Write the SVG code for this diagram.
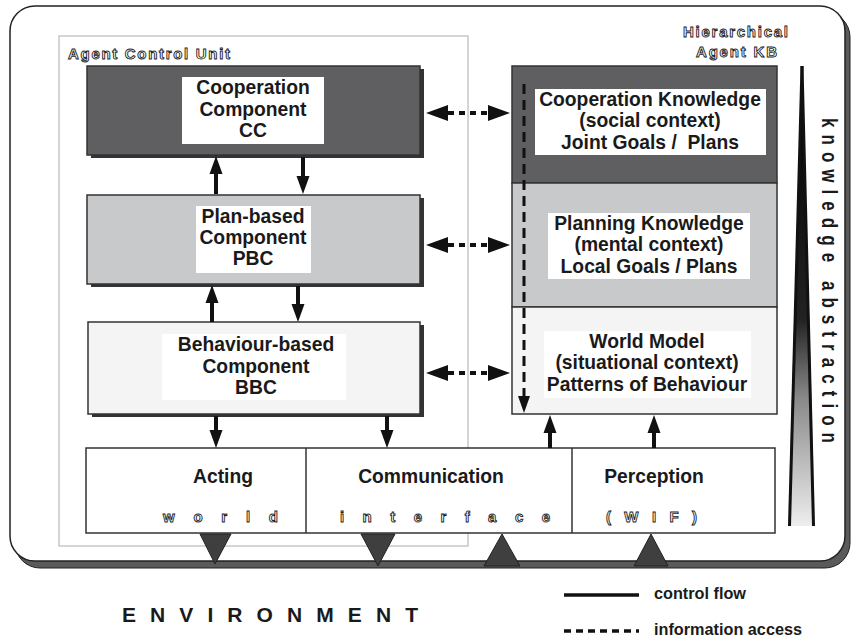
<svg xmlns="http://www.w3.org/2000/svg" width="851" height="639" viewBox="0 0 851 639">
<defs>
<linearGradient id="wedgeGrad" x1="0" y1="66" x2="0" y2="526" gradientUnits="userSpaceOnUse">
<stop offset="0" stop-color="#000"/>
<stop offset="0.55" stop-color="#222"/>
<stop offset="0.72" stop-color="#888"/>
<stop offset="1" stop-color="#eee"/>
</linearGradient>
<style>
text{font-family:"Liberation Sans",Arial,sans-serif;font-weight:bold;}
.lbl{font-size:19.3px;fill:#1a1a1a;text-anchor:middle;}
.hollow{font-size:15px;fill:#fff;stroke:#222;stroke-width:0.9;}
.box{stroke:#333;stroke-width:1.5;}
.shadow{fill:#333;}
.white{fill:#fff;}
.solid{stroke:#111;stroke-width:4;fill:none;}
.dash{stroke:#111;stroke-width:4;fill:none;stroke-dasharray:6 5;}
.head{fill:#111;}
.tri{fill:#3f3f3f;stroke:#222;stroke-width:1;}
.leg{font-size:16px;fill:#1a1a1a;}
</style>
</defs>
<rect width="851" height="639" fill="#fff"/>
<!-- outer frame -->
<g id="frame">
<rect x="15" y="12" width="835" height="556" rx="25" fill="#5a5a5a" stroke="#222" stroke-width="1"/>
<rect x="10" y="6" width="835" height="555" rx="25" fill="#fff" stroke="#222" stroke-width="1.5"/>
</g>
<g id="agent-control-unit">
<rect x="59" y="36" width="409" height="510" fill="none" stroke="#c8c8c8" stroke-width="1.5"/>
<text class="hollow" x="68" y="59" textLength="162" lengthAdjust="spacing">Agent Control Unit</text>
</g>
<g id="cc">
<rect class="shadow" x="91" y="69" width="333" height="89"/>
<rect class="box" x="87" y="66" width="333" height="89" fill="#5f5f61"/>
<rect class="white" x="182" y="77" width="142" height="67"/>
<text class="lbl" x="253" y="94">Cooperation</text>
<text class="lbl" x="253" y="115.5">Component</text>
<text class="lbl" x="253" y="137">CC</text>
</g>
<g id="pbc">
<rect class="shadow" x="91" y="198" width="333" height="89"/>
<rect class="box" x="87" y="195" width="333" height="89" fill="#c8c9cb"/>
<rect class="white" x="196" y="206" width="115" height="67"/>
<text class="lbl" x="253" y="223">Plan-based</text>
<text class="lbl" x="253" y="244">Component</text>
<text class="lbl" x="253" y="265">PBC</text>
</g>
<g id="bbc">
<rect class="shadow" x="92" y="325" width="332" height="92"/>
<rect class="box" x="88" y="322" width="332" height="92" fill="#f4f4f4"/>
<rect class="white" x="162" y="334" width="184" height="66"/>
<text class="lbl" x="256" y="351">Behaviour-based</text>
<text class="lbl" x="256" y="372.5">Component</text>
<text class="lbl" x="256" y="394">BBC</text>
</g>
<g id="kb-title">
<text class="hollow" x="683" y="37" textLength="105" lengthAdjust="spacing">Hierarchical</text>
<text class="hollow" x="696" y="57" textLength="81" lengthAdjust="spacing">Agent KB</text>
</g>
<g id="ck">
<rect class="box" x="512" y="66" width="265" height="117" fill="#5f5f61"/>
<rect class="white" x="535" y="89" width="231" height="66"/>
<text class="lbl" x="650" y="106">Cooperation Knowledge</text>
<text class="lbl" x="650" y="127">(social context)</text>
<text class="lbl" x="650" y="149" style="white-space:pre">Joint Goals /  Plans</text>
</g>
<g id="pk">
<rect class="box" x="512" y="183" width="265" height="124" fill="#c8c9cb"/>
<rect class="white" x="548" y="213" width="202" height="66"/>
<text class="lbl" x="649" y="230">Planning Knowledge</text>
<text class="lbl" x="649" y="251">(mental context)</text>
<text class="lbl" x="649" y="273">Local Goals / Plans</text>
</g>
<g id="wm">
<rect class="box" x="512" y="307" width="265" height="107" fill="#f4f4f4"/>
<rect class="white" x="544" y="331" width="207" height="67"/>
<text class="lbl" x="647" y="348">World Model</text>
<text class="lbl" x="647" y="369">(situational context)</text>
<text class="lbl" x="647" y="391">Patterns of Behaviour</text>
</g>
<g id="interface">
<rect class="box" x="86" y="448" width="689" height="85" fill="#fff"/>
<line x1="306" y1="448" x2="306" y2="533" stroke="#333" stroke-width="1.5"/>
<line x1="572" y1="448" x2="572" y2="533" stroke="#333" stroke-width="1.5"/>
<text class="lbl" x="223" y="483">Acting</text>
<text class="lbl" x="431" y="483">Communication</text>
<text class="lbl" x="654" y="483">Perception</text>
<text class="hollow" x="163" y="522" textLength="115" lengthAdjust="spacing">w o r l d</text>
<text class="hollow" x="340" y="522" textLength="210" lengthAdjust="spacing">i n t e r f a c e</text>
<text class="hollow" x="606" y="522" textLength="91" lengthAdjust="spacing">( W I F )</text>
</g>
<g id="environment-triangles">
<polygon class="tri" points="200,534 231,534 215,564"/>
<polygon class="tri" points="361,534 395,534 378,566"/>
<polygon class="tri" points="484,566 520,566 502,534"/>
<polygon class="tri" points="634,566 668,566 651,534"/>
</g>
<g id="knowledge-abstraction">
<polygon points="802,66 815,526 788,526" fill="url(#wedgeGrad)"/>
<line x1="802" y1="66" x2="789.5" y2="526" stroke="#111" stroke-width="3"/>
<line x1="802" y1="66" x2="813.5" y2="526" stroke="#111" stroke-width="3"/>
<text transform="translate(822,118) rotate(90) scale(1,1.25)" x="0" y="0" font-size="17" fill="#1a1a1a" textLength="325" lengthAdjust="spacing" style="white-space:pre">k n o w l e d g e   a b s t r a c t i o n</text>
</g>
<g id="connectors">
<!-- CC <-> PBC -->
<line class="solid" x1="216" y1="194" x2="216" y2="172"/>
<polygon class="head" points="216,156 209.5,174 222.5,174"/>
<line class="solid" x1="303" y1="157" x2="303" y2="178"/>
<polygon class="head" points="303,194 296.5,176 309.5,176"/>
<!-- PBC <-> BBC -->
<line class="solid" x1="212" y1="322" x2="212" y2="301"/>
<polygon class="head" points="212,285 205.5,303 218.5,303"/>
<line class="solid" x1="298" y1="286" x2="298" y2="306"/>
<polygon class="head" points="298,322 291.5,304 304.5,304"/>
<!-- BBC -> interface -->
<line class="solid" x1="216" y1="416" x2="216" y2="432"/>
<polygon class="head" points="216,448 209.5,430 222.5,430"/>
<line class="solid" x1="387" y1="416" x2="387" y2="432"/>
<polygon class="head" points="387,448 380.5,430 393.5,430"/>
<!-- interface -> WM -->
<line class="solid" x1="550" y1="448" x2="550" y2="431"/>
<polygon class="head" points="550,415 543.5,433 556.5,433"/>
<line class="solid" x1="654" y1="448" x2="654" y2="431"/>
<polygon class="head" points="654,415 647.5,433 660.5,433"/>
<!-- information access -->
<line class="dash" x1="448" y1="113" x2="488" y2="113"/>
<polygon class="head" points="426,113 448,105 448,121"/>
<polygon class="head" points="510,113 488,105 488,121"/>
<line class="dash" x1="448" y1="245" x2="488" y2="245"/>
<polygon class="head" points="426,245 448,237 448,253"/>
<polygon class="head" points="510,245 488,237 488,253"/>
<line class="dash" x1="448" y1="373" x2="488" y2="373"/>
<polygon class="head" points="426,373 448,365 448,381"/>
<polygon class="head" points="510,373 488,365 488,381"/>
<line x1="524" y1="84" x2="524" y2="397" stroke="#111" stroke-width="3" stroke-dasharray="10 6"/>
<polygon class="head" points="524,413 518,396 530,396"/>
</g>
<g id="legend">
<line x1="564" y1="595" x2="639" y2="595" stroke="#111" stroke-width="3.5"/>
<text class="leg" x="654" y="599" textLength="92" lengthAdjust="spacingAndGlyphs">control flow</text>
<line x1="564" y1="631" x2="639" y2="631" stroke="#111" stroke-width="3.5" stroke-dasharray="7 5"/>
<text class="leg" x="654" y="635" textLength="148" lengthAdjust="spacingAndGlyphs">information access</text>
</g>
<text x="122" y="622" font-size="21" fill="#1a1a1a" textLength="296" lengthAdjust="spacing">E N V I R O N M E N T</text>
</svg>
